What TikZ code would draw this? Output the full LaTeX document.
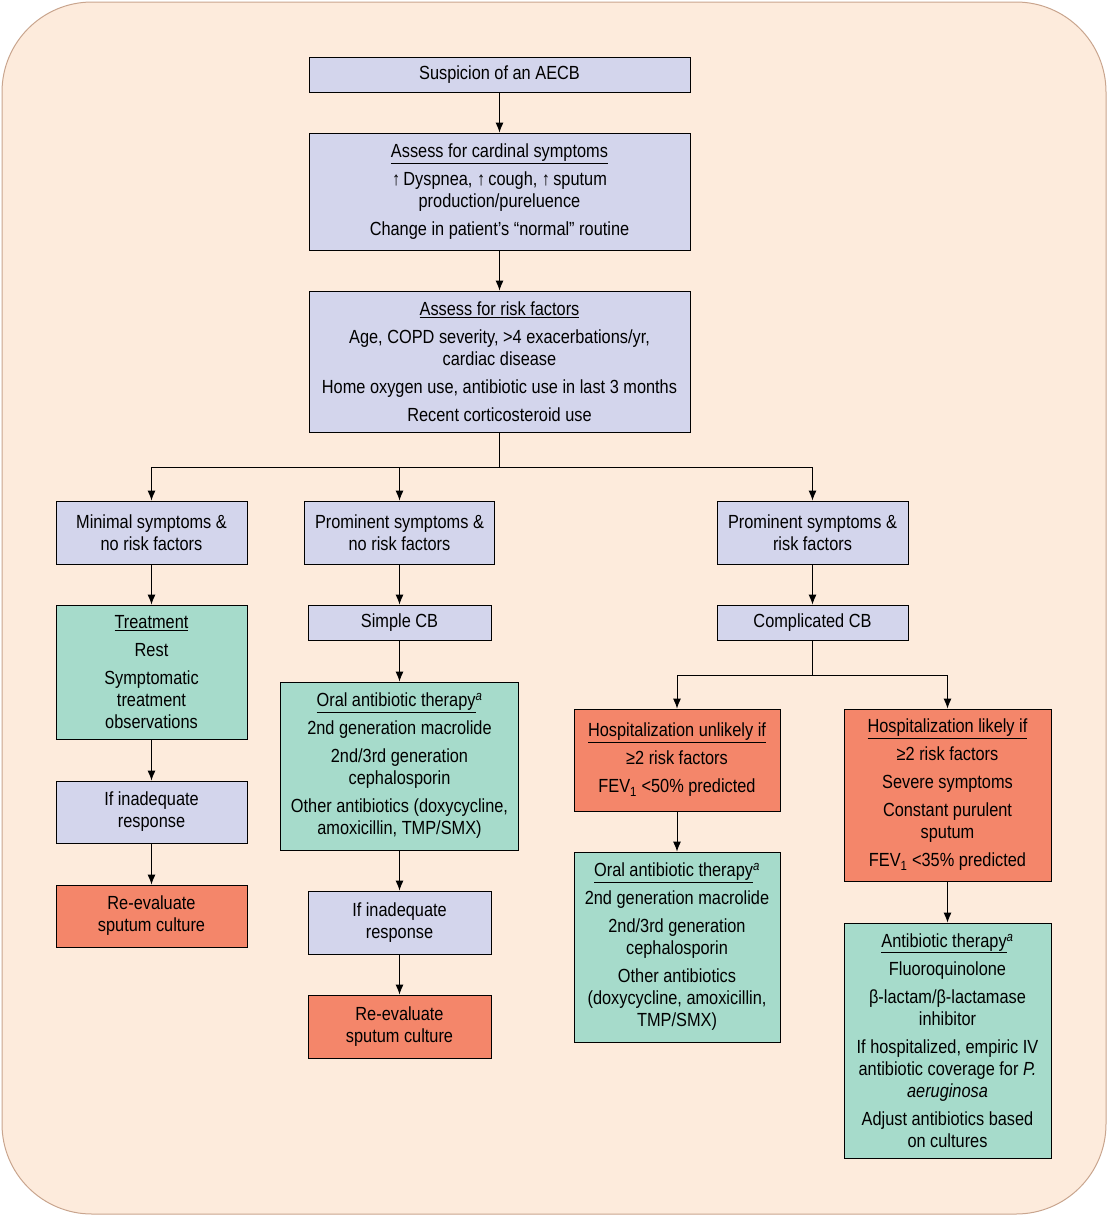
\documentclass[tikz,border=0pt]{standalone}
\usepackage{fontspec}
\setmainfont[FakeStretch=0.86]{Liberation Sans}
\usetikzlibrary{arrows.meta, positioning}
\definecolor{peach}{HTML}{FDEBDC}
\definecolor{lav}{HTML}{D3D5EC}
\definecolor{mint}{HTML}{A6DBCB}
\definecolor{salmon}{HTML}{F4866A}
\definecolor{rim}{HTML}{C9A58E}
\tikzset{
  box/.style = {rectangle, draw=black, line width=0.9pt, align=center, font=\fontsize{19}{22}\selectfont, inner sep=2pt},
  bluebox/.style = {box, fill=lav},
  greenbox/.style = {box, fill=mint},
  redbox/.style = {box, fill=salmon},
  arr/.style = {-{Latex[length=10pt, width=8pt]}, line width=0.9pt}
}
\newcommand{\supa}{\textsuperscript{\itshape a}}

\begin{document}
\begin{tikzpicture}[x=1pt, y=-1pt]
\useasboundingbox (0,0) rectangle (1108,1216);
\draw[fill=peach, draw=rim, line width=1pt, rounded corners=90pt] (2,2) rectangle (1106,1214);

% Top column
\node[bluebox, minimum width=381pt, minimum height=35pt] (aecb) at (499.5,74.5) {Suspicion of an AECB};
\node[bluebox, minimum width=381pt, minimum height=117pt] (cardinal) at (499.5,191.5) {\underline{Assess for cardinal symptoms}\\[6pt]
↑\,Dyspnea, ↑\,cough, ↑\,sputum\\
production/pureluence\\[6pt]
Change in patient’s “normal” routine};
\node[bluebox, minimum width=381pt, minimum height=141pt] (risk) at (499.5,361.5) {\underline{Assess for risk factors}\\[6pt]
Age, COPD severity, >4 exacerbations/yr,\\
cardiac disease\\[6pt]
Home oxygen use, antibiotic use in last 3 months\\[6pt]
Recent corticosteroid use};

% Row of three groups
\node[bluebox, minimum width=191pt, minimum height=63pt] (minimal) at (151.5,532.5) {Minimal symptoms \&\\no risk factors};
\node[bluebox, minimum width=190pt, minimum height=63pt] (promno) at (399.5,532.5) {Prominent symptoms \&\\no risk factors};
\node[bluebox, minimum width=191pt, minimum height=63pt] (promrisk) at (812.5,532.5) {Prominent symptoms \&\\risk factors};

% Left column
\node[greenbox, minimum width=191pt, minimum height=134pt] (treat) at (151.5,672) {\underline{Treatment}\\[6pt]
Rest\\[6pt]
Symptomatic\\treatment\\observations};
\node[bluebox, minimum width=191pt, minimum height=62pt] (inadL) at (151.5,812) {If inadequate\\response};
\node[redbox, minimum width=191pt, minimum height=62pt] (reevalL) at (151.5,916) {Re-evaluate\\sputum culture};

% Middle column
\node[bluebox, minimum width=183pt, minimum height=35pt] (simple) at (399.5,622.5) {Simple CB};
\node[greenbox, minimum width=238pt, minimum height=168pt] (oralM) at (399.5,766) {\underline{Oral antibiotic therapy}\supa\\[6pt]
2nd generation macrolide\\[6pt]
2nd/3rd generation\\cephalosporin\\[6pt]
Other antibiotics (doxycycline,\\amoxicillin, TMP/SMX)};
\node[bluebox, minimum width=183pt, minimum height=63pt] (inadM) at (399.5,922.5) {If inadequate\\response};
\node[redbox, minimum width=183pt, minimum height=63pt] (reevalM) at (399.5,1026.5) {Re-evaluate\\sputum culture};

% Right column
\node[bluebox, minimum width=191pt, minimum height=35pt] (complic) at (812.5,622.5) {Complicated CB};
\node[redbox, minimum width=206pt, minimum height=102pt] (unlikely) at (677,760) {\underline{Hospitalization unlikely if}\\[6pt]
≥2 risk factors\\[6pt]
FEV\textsubscript{1} <50\% predicted};
\node[redbox, minimum width=207pt, minimum height=172pt] (likely) at (947.5,795) {\underline{Hospitalization likely if}\\[6pt]
≥2 risk factors\\[6pt]
Severe symptoms\\[6pt]
Constant purulent\\sputum\\[6pt]
FEV\textsubscript{1} <35\% predicted};
\node[greenbox, minimum width=206pt, minimum height=190pt] (oralR) at (677,947) {\underline{Oral antibiotic therapy}\supa\\[6pt]
2nd generation macrolide\\[6pt]
2nd/3rd generation\\cephalosporin\\[6pt]
Other antibiotics\\(doxycycline, amoxicillin,\\TMP/SMX)};
\node[greenbox, minimum width=207pt, minimum height=235pt] (abx) at (947.5,1040.5) {\underline{Antibiotic therapy}\supa\\[6pt]
Fluoroquinolone\\[6pt]
β-lactam/β-lactamase\\inhibitor\\[6pt]
If hospitalized, empiric IV\\antibiotic coverage for \textit{P.}\\\textit{aeruginosa}\\[6pt]
Adjust antibiotics based\\on cultures};

% ----- ARROWS -----
\draw[arr] (aecb.south) -- (cardinal.north);
\draw[arr] (cardinal.south) -- (risk.north);
% Split into three
\coordinate (split1) at (499.5,467);
\draw[line width=0.9pt] (risk.south) -- (split1);
\draw[arr] (split1) -| (minimal.north);
\draw[arr] (split1) -| (promno.north);
\draw[arr] (split1) -| (promrisk.north);
% Left
\draw[arr] (minimal.south) -- (treat.north);
\draw[arr] (treat.south) -- (inadL.north);
\draw[arr] (inadL.south) -- (reevalL.north);
% Middle
\draw[arr] (promno.south) -- (simple.north);
\draw[arr] (simple.south) -- (oralM.north);
\draw[arr] (oralM.south) -- (inadM.north);
\draw[arr] (inadM.south) -- (reevalM.north);
% Right
\draw[arr] (promrisk.south) -- (complic.north);
\coordinate (split2) at (812.5,675);
\draw[line width=0.9pt] (complic.south) -- (split2);
\draw[arr] (split2) -| (unlikely.north);
\draw[arr] (split2) -| (likely.north);
\draw[arr] (unlikely.south) -- (oralR.north);
\draw[arr] (likely.south) -- (abx.north);

\end{tikzpicture}
\end{document}
